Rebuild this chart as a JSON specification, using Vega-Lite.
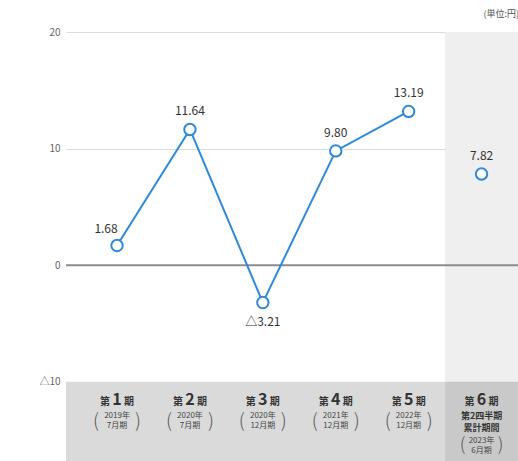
{
  "$schema": "https://vega.github.io/schema/vega-lite/v6.json",
  "autosize": {"type": "none"},
  "padding": {"left": 66, "top": 32, "right": 0, "bottom": 0},
  "width": 452,
  "height": 429,
  "background": "white",
  "title": {"text": "(単位:円)", "anchor": "end", "fontSize": 9, "fontWeight": "normal", "color": "#555", "offset": 8, "font": "Noto Sans CJK JP"},
  "config": {"view": {"stroke": null}, "font": "Noto Sans CJK JP", "text": {"font": "Noto Sans CJK JP"}},
  "datasets": {
    "main": [
      {"cat": "1", "value": 1.68, "label": "1.68"},
      {"cat": "2", "value": 11.64, "label": "11.64"},
      {"cat": "3", "value": -3.21, "label": "△3.21"},
      {"cat": "4", "value": 9.80, "label": "9.80"},
      {"cat": "5", "value": 13.19, "label": "13.19"},
      {"cat": "6", "value": 7.82, "label": "7.82"}
    ],
    "cats": [
      {"cat": "1", "num": "1", "year": "2019年", "month": "7月期"},
      {"cat": "2", "num": "2", "year": "2020年", "month": "7月期"},
      {"cat": "3", "num": "3", "year": "2020年", "month": "12月期"},
      {"cat": "4", "num": "4", "year": "2021年", "month": "12月期"},
      {"cat": "5", "num": "5", "year": "2022年", "month": "12月期"},
      {"cat": "6", "num": "6", "year": "2023年", "month": "6月期", "extra1": "第2四半期", "extra2": "累計期間"}
    ]
  },
  "encoding": {
    "x": {"field": "cat", "type": "nominal", "axis": null,
          "scale": {"type": "band", "domain": ["1","2","3","4","5","6"], "paddingInner": 0, "paddingOuter": 0.1, "align": 1}},
    "y": {"type": "quantitative"}
  },
  "layer": [
    {
      "data": {"name": "main"},
      "mark": {"type": "rule", "opacity": 0},
      "encoding": {
        "y": {"field": "value", "type": "quantitative",
              "scale": {"domain": [-16.8, 20], "nice": false, "zero": false},
              "axis": {"values": [-10, 0, 10, 20], "title": null, "domain": false, "ticks": false,
                       "labelPadding": 6, "labelFontSize": 10, "labelColor": "#666",
                       "labelExpr": "datum.value < 0 ? '△' + abs(datum.value) : datum.value",
                       "grid": true, "gridColor": {"condition": {"test": "datum.value < 0", "value": "transparent"}, "value": "#dddddd"}, "gridWidth": 1}}
      }
    },
    {
      "data": {"name": "cats"},
      "transform": [{"filter": "datum.cat == '6'"}],
      "mark": {"type": "rect", "color": "#efefef"},
      "encoding": {"y": {"datum": 20}, "y2": {"datum": -10}}
    },
    {
      "data": {"values": [{}]},
      "mark": {"type": "rect", "color": "#dadada"},
      "encoding": {"x": null, "y": {"datum": -10}, "y2": {"datum": -16.8}}
    },
    {
      "data": {"name": "cats"},
      "transform": [{"filter": "datum.cat == '6'"}],
      "mark": {"type": "rect", "color": "#c9c9c9"},
      "encoding": {"y": {"datum": -10}, "y2": {"datum": -16.8}}
    },
    {
      "data": {"values": [{}]},
      "mark": {"type": "rule", "color": "#8c8c8c", "strokeWidth": 2},
      "encoding": {"x": null, "y": {"datum": 0}}
    },
    {
      "data": {"name": "main"},
      "transform": [{"filter": "datum.cat != '6'"}],
      "mark": {"type": "line", "color": "#2e8ad8", "strokeWidth": 2},
      "encoding": {"y": {"field": "value", "type": "quantitative"}}
    },
    {
      "data": {"name": "main"},
      "mark": {"type": "point", "shape": "circle", "filled": false, "fill": "white", "fillOpacity": 1, "stroke": "#2e8ad8", "strokeWidth": 2, "size": 130, "opacity": 1},
      "encoding": {"y": {"field": "value", "type": "quantitative"}}
    },
    {
      "data": {"name": "main"},
      "transform": [{"filter": "datum.value >= 0 && datum.cat != '1'"}],
      "mark": {"type": "text", "dy": -18, "fontSize": 12, "color": "#333"},
      "encoding": {"y": {"field": "value", "type": "quantitative"}, "text": {"field": "label"}}
    },
    {
      "data": {"name": "main"},
      "transform": [{"filter": "datum.cat == '1'"}],
      "mark": {"type": "text", "dy": -17, "dx": -11, "fontSize": 12, "color": "#333"},
      "encoding": {"y": {"field": "value", "type": "quantitative"}, "text": {"field": "label"}}
    },
    {
      "data": {"name": "main"},
      "transform": [{"filter": "datum.value < 0"}],
      "mark": {"type": "text", "dy": 19, "fontSize": 12, "color": "#333"},
      "encoding": {"y": {"field": "value", "type": "quantitative"}, "text": {"field": "label"}}
    },
    {
      "data": {"name": "cats"},
      "mark": {"type": "text", "fontSize": 16, "fontWeight": "bold", "color": "#333", "baseline": "middle"},
      "encoding": {"y": {"datum": -11.6}, "text": {"field": "num"}}
    },
    {
      "data": {"name": "cats"},
      "mark": {"type": "text", "fontSize": 10, "fontWeight": "bold", "color": "#333", "baseline": "middle", "dx": -12},
      "encoding": {"y": {"datum": -11.7}, "text": {"value": "第"}}
    },
    {
      "data": {"name": "cats"},
      "mark": {"type": "text", "fontSize": 10, "fontWeight": "bold", "color": "#333", "baseline": "middle", "dx": 12},
      "encoding": {"y": {"datum": -11.7}, "text": {"value": "期"}}
    },
    {
      "data": {"name": "cats"},
      "transform": [{"filter": "datum.cat == '6'"}],
      "mark": {"type": "text", "fontSize": 9, "fontWeight": "bold", "color": "#333", "baseline": "middle"},
      "encoding": {"y": {"datum": -12.92}, "text": {"field": "extra1"}}
    },
    {
      "data": {"name": "cats"},
      "transform": [{"filter": "datum.cat == '6'"}],
      "mark": {"type": "text", "fontSize": 9, "fontWeight": "bold", "color": "#333", "baseline": "middle"},
      "encoding": {"y": {"datum": -13.95}, "text": {"field": "extra2"}}
    },
    {
      "data": {"name": "cats"},
      "transform": [{"filter": "datum.cat != '6'"}],
      "mark": {"type": "text", "fontSize": 8, "color": "#444", "baseline": "middle"},
      "encoding": {"y": {"datum": -12.92}, "text": {"field": "year"}}
    },
    {
      "data": {"name": "cats"},
      "transform": [{"filter": "datum.cat != '6'"}],
      "mark": {"type": "text", "fontSize": 8, "color": "#444", "baseline": "middle"},
      "encoding": {"y": {"datum": -13.82}, "text": {"field": "month"}}
    },
    {
      "data": {"name": "cats"},
      "transform": [{"filter": "datum.cat != '6'"}],
      "mark": {"type": "text", "fontSize": 19, "fontWeight": 300, "color": "#555", "baseline": "middle", "dx": -21},
      "encoding": {"y": {"datum": -13.4}, "text": {"value": "("}}
    },
    {
      "data": {"name": "cats"},
      "transform": [{"filter": "datum.cat != '6'"}],
      "mark": {"type": "text", "fontSize": 19, "fontWeight": 300, "color": "#555", "baseline": "middle", "dx": 21},
      "encoding": {"y": {"datum": -13.4}, "text": {"value": ")"}}
    },
    {
      "data": {"name": "cats"},
      "transform": [{"filter": "datum.cat == '6'"}],
      "mark": {"type": "text", "fontSize": 8, "color": "#444", "baseline": "middle"},
      "encoding": {"y": {"datum": -15.05}, "text": {"field": "year"}}
    },
    {
      "data": {"name": "cats"},
      "transform": [{"filter": "datum.cat == '6'"}],
      "mark": {"type": "text", "fontSize": 8, "color": "#444", "baseline": "middle"},
      "encoding": {"y": {"datum": -15.95}, "text": {"field": "month"}}
    },
    {
      "data": {"name": "cats"},
      "transform": [{"filter": "datum.cat == '6'"}],
      "mark": {"type": "text", "fontSize": 18, "fontWeight": 300, "color": "#555", "baseline": "middle", "dx": -19},
      "encoding": {"y": {"datum": -15.55}, "text": {"value": "("}}
    },
    {
      "data": {"name": "cats"},
      "transform": [{"filter": "datum.cat == '6'"}],
      "mark": {"type": "text", "fontSize": 18, "fontWeight": 300, "color": "#555", "baseline": "middle", "dx": 19},
      "encoding": {"y": {"datum": -15.55}, "text": {"value": ")"}}
    }
  ]
}
